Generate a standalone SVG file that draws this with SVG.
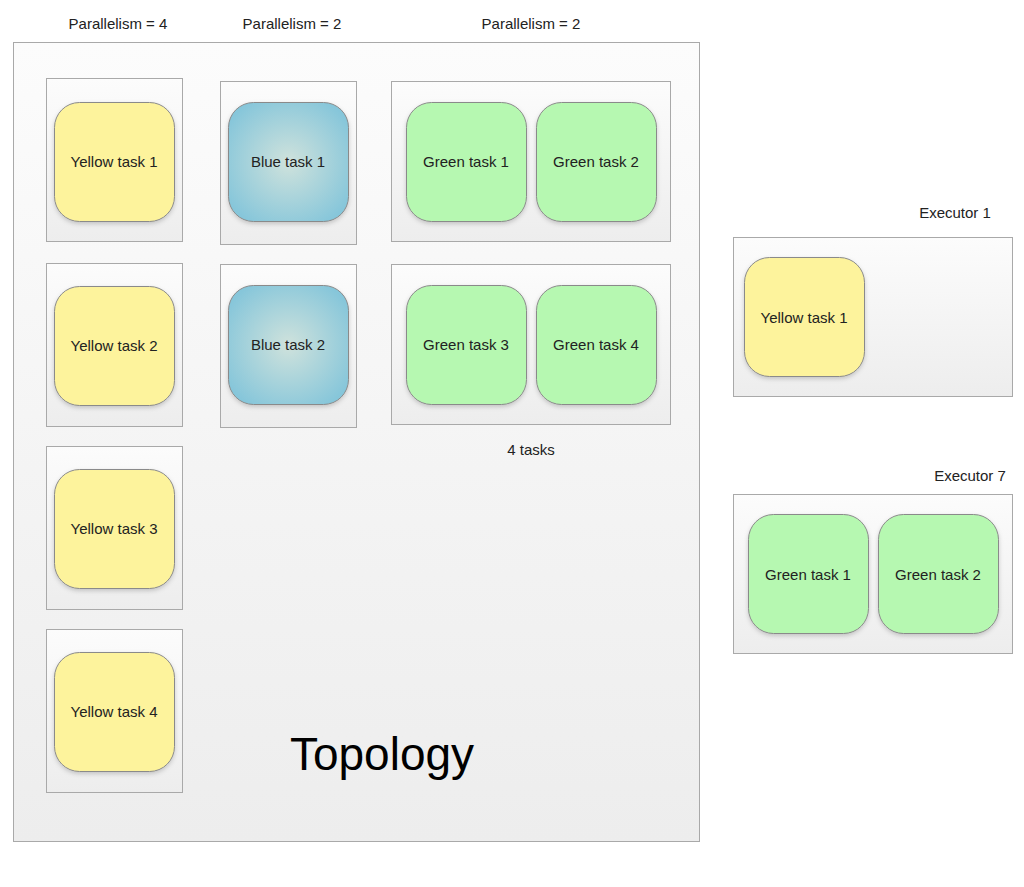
<svg xmlns="http://www.w3.org/2000/svg" width="1024" height="887" viewBox="0 0 1024 887">
<defs>
<linearGradient id="box" x1="0" y1="0" x2="0" y2="1"><stop offset="0" stop-color="#fcfcfc"/><stop offset="1" stop-color="#ededed"/></linearGradient>
<radialGradient id="blue" cx="0.5" cy="0.5" r="0.6"><stop offset="0" stop-color="#cfe2dc"/><stop offset="1" stop-color="#86c6da"/></radialGradient>
<filter id="sh" x="-10%" y="-10%" width="130%" height="130%"><feDropShadow dx="0" dy="2" stdDeviation="2" flood-color="#000" flood-opacity="0.18"/></filter>
<style>
.box{fill:url(#box);stroke:#a9a9a9;stroke-width:1}
.task{stroke:#8a8a8a;stroke-width:1;filter:url(#sh)}
.y{fill:#fdf39c}.b{fill:url(#blue)}.g{fill:#b6f8b1}
text{font-family:"Liberation Sans",Arial,sans-serif;font-size:15px;fill:#222;text-anchor:middle}
</style>
</defs>
<rect width="1024" height="887" fill="#fff"/>
<g id="labels">
<text x="118" y="29">Parallelism = 4</text>
<text x="292" y="29">Parallelism = 2</text>
<text x="531" y="29">Parallelism = 2</text>
</g>
<g id="topology">
<rect class="box" x="13.5" y="42.5" width="686" height="799"/>
<text x="382" y="770" style="font-size:46px;fill:#000">Topology</text>
</g>
<g id="yellow1"><rect class="box" x="46.5" y="78.5" width="136" height="163"/><rect class="task y" x="54.5" y="102.5" width="120" height="119" rx="25"/><text x="114" y="167">Yellow task 1</text></g>
<g id="yellow2"><rect class="box" x="46.5" y="263.5" width="136" height="163"/><rect class="task y" x="54.5" y="286.5" width="120" height="119" rx="25"/><text x="114" y="351">Yellow task 2</text></g>
<g id="yellow3"><rect class="box" x="46.5" y="446.5" width="136" height="163"/><rect class="task y" x="54.5" y="469.5" width="120" height="119" rx="25"/><text x="114" y="534">Yellow task 3</text></g>
<g id="yellow4"><rect class="box" x="46.5" y="629.5" width="136" height="163"/><rect class="task y" x="54.5" y="652.5" width="120" height="119" rx="25"/><text x="114" y="717">Yellow task 4</text></g>
<g id="blue1"><rect class="box" x="220.5" y="81.5" width="136" height="163"/><rect class="task b" x="228.5" y="102.5" width="120" height="119" rx="25"/><text x="288" y="167">Blue task 1</text></g>
<g id="blue2"><rect class="box" x="220.5" y="264.5" width="136" height="163"/><rect class="task b" x="228.5" y="285.5" width="120" height="119" rx="25"/><text x="288" y="350">Blue task 2</text></g>
<g id="greenA"><rect class="box" x="391.5" y="81.5" width="279" height="160"/>
<rect class="task g" x="406.5" y="102.5" width="120" height="119" rx="25"/><text x="466" y="167">Green task 1</text>
<rect class="task g" x="536.5" y="102.5" width="120" height="119" rx="25"/><text x="596" y="167">Green task 2</text></g>
<g id="greenB"><rect class="box" x="391.5" y="264.5" width="279" height="160"/>
<rect class="task g" x="406.5" y="285.5" width="120" height="119" rx="25"/><text x="466" y="350">Green task 3</text>
<rect class="task g" x="536.5" y="285.5" width="120" height="119" rx="25"/><text x="596" y="350">Green task 4</text></g>
<g id="fourTasks"><text x="531" y="455">4 tasks</text></g>
<g id="executor1"><text x="955" y="218">Executor 1</text><rect class="box" x="733.5" y="237.5" width="279" height="159"/>
<rect class="task y" x="744.5" y="257.5" width="120" height="119" rx="25"/><text x="804" y="323">Yellow task 1</text></g>
<g id="executor7"><text x="970" y="481">Executor 7</text><rect class="box" x="733.5" y="494.5" width="279" height="159"/>
<rect class="task g" x="748.5" y="514.5" width="120" height="119" rx="25"/><text x="808" y="580">Green task 1</text>
<rect class="task g" x="878.5" y="514.5" width="120" height="119" rx="25"/><text x="938" y="580">Green task 2</text></g>
<g id="connectors"/>
</svg>
